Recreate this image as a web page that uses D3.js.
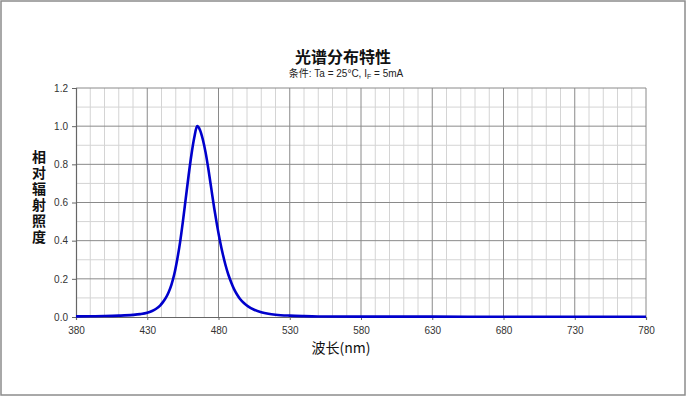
<!DOCTYPE html>
<html lang="zh">
<head>
  <meta charset="UTF-8">
  <title>光谱分布特性</title>
  <script src="https://d3js.org/d3.v7.min.js"></script>
  <style>
    body { margin: 0; background: #fff; }
    svg { display: block; }
    .tick-label { font-family: "Liberation Sans", Arial, sans-serif; font-size: 10px; fill: #333; }
    .cjk { font-family: "Noto Sans CJK SC", sans-serif; }
    .mixed { font-family: "Liberation Sans", Arial, "Noto Sans CJK SC", sans-serif; }
    .spectrum { fill: none; stroke: #0000cc; stroke-width: 2.6; }
    .vtitle { writing-mode: vertical-rl; text-orientation: upright; letter-spacing: 2px; }
  </style>
</head>
<body>
  <svg width="686" height="396"></svg>
  <script>
    // wavelength (nm) and relative radiance
    const wavelength = [380, 390, 400, 410, 420, 425, 430, 433, 436, 439, 441, 443, 445, 447, 449, 451, 453, 455, 457, 459, 461, 463, 465,
      467, 469, 471, 473, 475, 477, 479, 481, 483, 485, 487, 489, 491, 493, 495, 498, 501, 505, 510, 515, 520, 530, 540, 550,
      580, 630, 680, 730, 780];
    const radiance = [0.003, 0.004, 0.005, 0.007, 0.011, 0.015, 0.022, 0.030, 0.042, 0.060, 0.078, 0.10, 0.13, 0.17, 0.225, 0.30, 0.39, 0.50, 0.62, 0.74, 0.85, 0.94, 1.0,
      0.98, 0.93, 0.86, 0.77, 0.67, 0.57, 0.48, 0.40, 0.33, 0.27, 0.22, 0.18, 0.145, 0.118, 0.096, 0.072, 0.054, 0.038, 0.025, 0.017, 0.012, 0.007, 0.0045, 0.003,
      0.002, 0.002, 0.001, 0.001, 0.001];
    const xTicks = [380, 430, 480, 530, 580, 630, 680, 730, 780];
    const yTicks = [0, 0.2, 0.4, 0.6, 0.8, 1.0, 1.2];

    const data = wavelength.map((w, i) => ({ w: w, v: radiance[i] }));

    const svg = d3.select('svg');
    const plotL = 76, plotR = 646, plotT = 88, plotB = 317;

    const x = d3.scaleLinear().domain([380, 780]).range([plotL, plotR]);
    const y = d3.scaleLinear().domain([0, 1.2]).range([plotB, plotT]);

    // outer frame
    svg.append('rect')
      .attr('x', 1).attr('y', 1).attr('width', 684).attr('height', 394)
      .attr('fill', 'none').attr('stroke', '#8c8c8c').attr('stroke-width', 1.5);

    // minor grid
    const g = svg.append('g');
    d3.range(390, 780, 10).filter(d => (d - 380) % 50 != 0).forEach(d => {
      g.append('line').attr('x1', x(d)).attr('x2', x(d)).attr('y1', plotT).attr('y2', plotB)
        .attr('stroke', '#d4d4d4').attr('stroke-width', 1);
    });
    d3.range(0.1, 1.2, 0.2).forEach(d => {
      g.append('line').attr('x1', plotL).attr('x2', plotR).attr('y1', y(d)).attr('y2', y(d))
        .attr('stroke', '#d4d4d4').attr('stroke-width', 1);
    });

    // major grid
    xTicks.slice(1).forEach(d => {
      g.append('line').attr('x1', x(d)).attr('x2', x(d)).attr('y1', plotT).attr('y2', plotB)
        .attr('stroke', '#8a8a8a').attr('stroke-width', 1);
    });
    yTicks.slice(1).forEach(d => {
      g.append('line').attr('x1', plotL).attr('x2', plotR).attr('y1', y(d)).attr('y2', y(d))
        .attr('stroke', '#8a8a8a').attr('stroke-width', 1);
    });

    // axes
    const xAxis = svg.append('g').attr('transform', `translate(0,${plotB})`)
      .call(d3.axisBottom(x).tickValues(xTicks).tickSize(3).tickFormat(d3.format('d')));
    const yAxis = svg.append('g').attr('transform', `translate(${plotL},0)`)
      .call(d3.axisLeft(y).tickValues(yTicks).tickSize(4).tickFormat(d3.format('.1f')));
    [xAxis, yAxis].forEach(a => {
      a.select('.domain').attr('stroke', '#666').attr('stroke-width', 1.2);
      a.selectAll('.tick line').attr('stroke', '#666');
      a.selectAll('.tick text').attr('class', 'tick-label').attr('fill', null);
    });
    xAxis.selectAll('.tick text').attr('dy', '1.1em');
    yAxis.selectAll('.tick text').attr('x', -8);

    // spectrum line
    const line = d3.line().x(d => x(d.w)).y(d => y(d.v)).curve(d3.curveMonotoneX);
    svg.append('path').datum(data).attr('class', 'spectrum').attr('d', line);

    // title and conditions
    svg.append('text').attr('class', 'cjk').attr('x', 343).attr('y', 63)
      .attr('text-anchor', 'middle').attr('font-size', 16).attr('font-weight', 'bold').attr('fill', '#111')
      .text('光谱分布特性');
    const sub = svg.append('text').attr('class', 'mixed').attr('x', 346).attr('y', 77)
      .attr('text-anchor', 'middle').attr('font-size', 10).attr('fill', '#222');
    sub.append('tspan').text('条件: Ta = 25°C, I');
    sub.append('tspan').attr('font-size', 7).attr('dy', 2).text('F');
    sub.append('tspan').attr('dy', -2).text(' = 5mA');

    // y axis title, written top to bottom
    svg.append('text').attr('class', 'cjk vtitle')
      .attr('x', 39).attr('y', 150)
      .attr('font-size', 14).attr('font-weight', 'bold').attr('fill', '#111')
      .text('相对辐射照度');

    // x axis title
    svg.append('text').attr('class', 'cjk').attr('x', 341).attr('y', 353)
      .attr('text-anchor', 'middle').attr('font-size', 14).attr('fill', '#111')
      .text('波长(nm)');
  </script>
</body>
</html>
